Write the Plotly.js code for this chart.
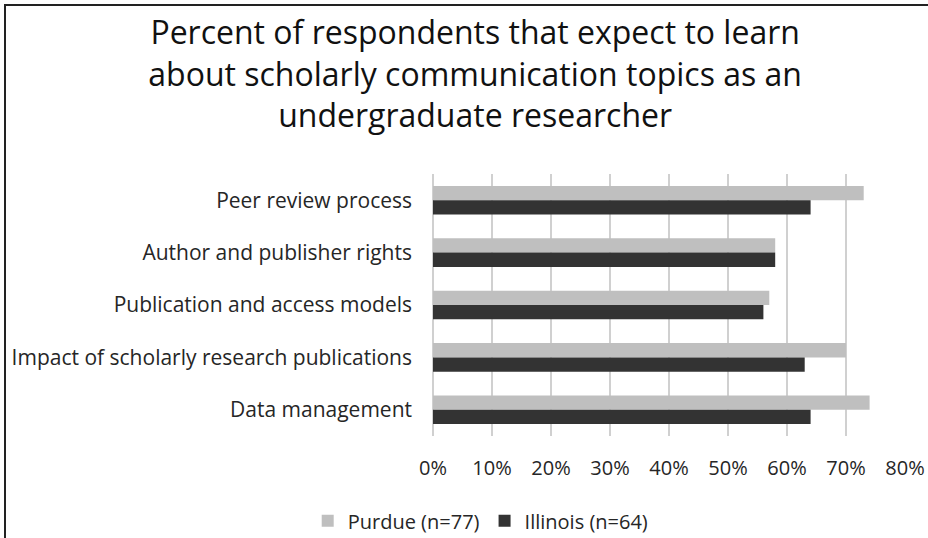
<!DOCTYPE html>
<html>
<head>
<meta charset="utf-8">
<script src="https://cdn.plot.ly/plotly-3.0.1.min.js"></script>
<style>
html,body{margin:0;padding:0;background:#fff;overflow:hidden;}
#chart{width:928px;height:538px;}
#frame{position:absolute;left:4px;top:4px;width:1000px;height:1000px;border:2px solid #222;pointer-events:none;}
</style>
</head>
<body>
<div id="chart"></div>
<div id="frame"></div>
<script>
const categories = ["Peer review process", "Author and publisher rights", "Publication and access models", "Impact of scholarly research publications", "Data management"];
const purdue = [73, 58, 57, 70, 74];
const illinois = [64, 58, 56, 63, 64];
const seriesNames = ["Purdue (n=77)", "Illinois (n=64)"];
const tickVals = [0, 10, 20, 30, 40, 50, 60, 70, 80];
const tickText = ["0%", "10%", "20%", "30%", "40%", "50%", "60%", "70%", "80%"];

const font = "'Open Sans', Lato, sans-serif";
const traces = [
  {type: "bar", orientation: "h", name: seriesNames[0], y: categories, x: purdue, marker: {color: "#bfbfbf"}, hoverinfo: "x+y"},
  {type: "bar", orientation: "h", name: seriesNames[1], y: categories, x: illinois, marker: {color: "#333333"}, hoverinfo: "x+y"}
];
const layout = {
  width: 928, height: 538,
  paper_bgcolor: "#fff", plot_bgcolor: "#fff",
  margin: {l: 433, r: 23, t: 174, b: 102},
  font: {family: font, color: "#262626", size: 21},
  title: {text: "Percent of respondents that expect to learn<br>about scholarly communication topics as an<br>undergraduate researcher",
          font: {family: font, size: 32, color: "#111"}, x: 0.512, xanchor: "center", xref: "container",
          y: 0.918, yanchor: "top", yref: "container"},
  barmode: "group", bargap: 0.455, bargroupgap: 0,
  xaxis: {range: [0, 80], tickvals: tickVals, ticktext: tickText, showgrid: true, gridcolor: "#d0d0d0", gridwidth: 2,
          zeroline: true, zerolinecolor: "#d0d0d0", zerolinewidth: 2, showline: false, ticks: "",
          ticklabelstandoff: 18, tickfont: {size: 20, color: "#262626"}, fixedrange: true},
  yaxis: {autorange: "reversed", ticks: "", showline: false, showgrid: false, ticklabelstandoff: 20,
          tickfont: {size: 21, color: "#262626"}, fixedrange: true},
  legend: {orientation: "h", x: 0.518, xanchor: "center", y: 0.032, yanchor: "middle", xref: "container", yref: "container",
           font: {size: 20, color: "#262626"}, traceorder: "normal", itemwidth: 30},
  showlegend: true
};
Plotly.newPlot("chart", traces, layout, {displayModeBar: false, staticPlot: true});
</script>
</body>
</html>
